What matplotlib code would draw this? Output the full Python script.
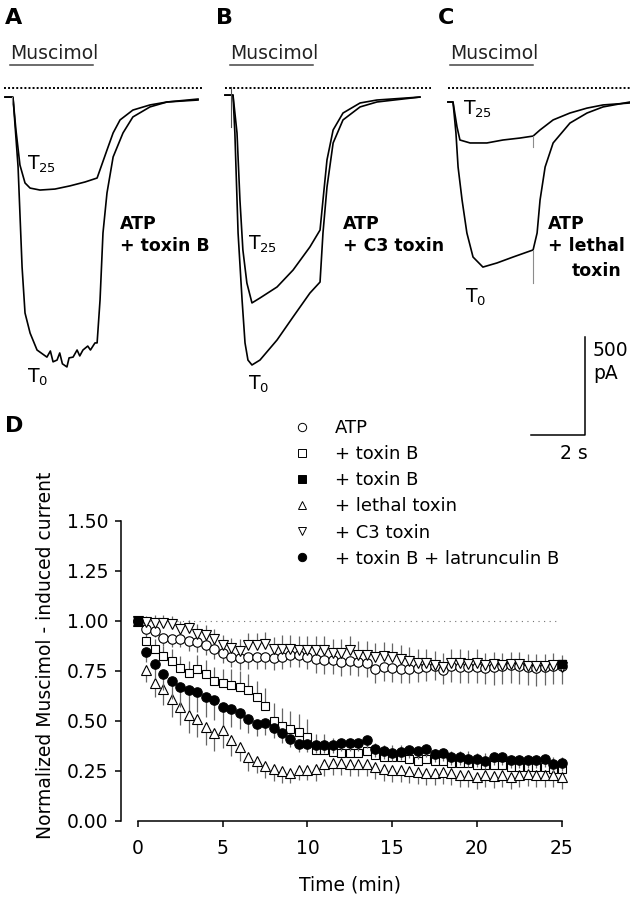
import matplotlib
matplotlib.use("Agg")
import matplotlib.pyplot as plt
from matplotlib.lines import Line2D

plt.rcParams['font.family'] = ['DejaVu Sans']
plt.rcParams['mathtext.fontset'] = 'dejavusans'

W, H = 630, 899

# ---- current traces (time in s from muscimol onset, current in pA) ----
a_t25_time = [-0.30, -0.04, 0.00, 0.11, 0.26, 0.45, 0.64, 1.01, 1.57, 2.13, 2.70, 3.15,
              3.52, 3.75, 4.01, 4.49, 5.13, 5.77, 6.93]
a_t25_curr = [-46, -46, -51, -213, -391, -482, -508, -518, -513, -497, -477, -457,
              -315, -228, -162, -112, -86, -71, -56]
a_t0_time = [-0.30, -0.04, 0.00, 0.19, 0.34, 0.45, 0.64, 0.90, 1.27, 1.40, 1.50, 1.65,
             1.75, 1.85, 2.02, 2.10, 2.25, 2.40, 2.50, 2.62, 2.80, 2.90, 3.07, 3.15,
             3.26, 3.37, 3.52, 3.75, 4.12, 4.49, 5.13, 5.77, 6.93]
a_t0_curr = [-46, -46, -46, -401, -909, -1142, -1244, -1330, -1366, -1335, -1390, -1381,
             -1345, -1400, -1416, -1370, -1366, -1330, -1360, -1330, -1310, -1330, -1294, -1294,
             -1076, -736, -533, -350, -228, -147, -96, -71, -61]

b_t25_time = [-0.30, -0.04, 0.00, 0.15, 0.26, 0.37, 0.52, 0.71, 1.01, 1.65, 2.25, 2.88,
              3.26, 3.37, 3.52, 3.75, 4.12, 4.76, 5.39, 7.00]
b_t25_curr = [-36, -36, -36, -228, -569, -822, -990, -1091, -1066, -1010, -924, -807,
              -721, -569, -365, -213, -127, -76, -61, -46]
b_t0_time = [-0.30, -0.04, 0.00, 0.07, 0.19, 0.34, 0.45, 0.56, 0.71, 1.01, 1.65, 2.25,
             2.88, 3.26, 3.37, 3.52, 3.75, 4.12, 4.76, 5.39, 7.00]
b_t0_curr = [-36, -36, -36, -228, -736, -1076, -1294, -1381, -1406, -1381, -1279, -1162,
             -1041, -985, -736, -503, -279, -162, -96, -71, -46]

c_t25_time = [-0.19, 0.00, 0.15, 0.26, 0.64, 1.27, 1.87, 2.51, 3.00, 3.26, 3.75, 4.38,
              5.02, 5.62, 6.63]
c_t25_curr = [-71, -71, -198, -264, -279, -279, -264, -254, -244, -213, -162, -127,
              -102, -86, -76]
c_t0_time = [-0.19, 0.00, 0.11, 0.19, 0.34, 0.52, 0.75, 1.12, 1.65, 2.25, 3.00, 3.15,
             3.26, 3.45, 3.75, 4.38, 5.02, 5.62, 6.63]
c_t0_curr = [-71, -71, -228, -401, -569, -736, -858, -909, -888, -858, -822, -736,
             -569, -401, -279, -178, -127, -96, -71]

muscimol_on, muscimol_off = -0.1, 3.0       # s
scale_time, scale_curr = 2, 500             # s, pA

# ---- normalized current time course ----
time_min = [0, 0.5, 1, 1.5, 2, 2.5, 3, 3.5, 4, 4.5, 5, 5.5, 6, 6.5, 7, 7.5, 8, 8.5, 9, 9.5,
            10, 10.5, 11, 11.5, 12, 12.5, 13, 13.5, 14, 14.5, 15, 15.5, 16, 16.5, 17, 17.5,
            18, 18.5, 19, 19.5, 20, 20.5, 21, 21.5, 22, 22.5, 23, 23.5, 24, 24.5, 25]

atp = [1.00, 0.96, 0.95, 0.915, 0.91, 0.91, 0.90, 0.895, 0.88, 0.86, 0.84, 0.82, 0.815,
       0.82, 0.82, 0.82, 0.815, 0.82, 0.83, 0.83, 0.82, 0.81, 0.805, 0.805, 0.795, 0.80,
       0.795, 0.79, 0.76, 0.77, 0.765, 0.76, 0.76, 0.765, 0.77, 0.775, 0.755, 0.775, 0.77,
       0.77, 0.77, 0.765, 0.77, 0.775, 0.78, 0.775, 0.77, 0.765, 0.77, 0.775, 0.775]
atp_err = [0, 0.03, 0.03, 0.04, 0.04, 0.04, 0.05, 0.05, 0.05, 0.05, 0.05, 0.05, 0.06,
           0.06, 0.06, 0.06, 0.06, 0.06, 0.06, 0.06, 0.06, 0.07, 0.07, 0.07, 0.07, 0.07,
           0.07, 0.07, 0.07, 0.07, 0.07, 0.07, 0.07, 0.07, 0.07, 0.07, 0.07, 0.08, 0.08,
           0.08, 0.08, 0.08, 0.09, 0.09, 0.09, 0.09, 0.09, 0.09, 0.09, 0.09, 0.09]

toxb = [1.00, 0.90, 0.86, 0.825, 0.80, 0.765, 0.74, 0.76, 0.735, 0.70, 0.69, 0.68, 0.67,
        0.655, 0.62, 0.575, 0.50, 0.475, 0.46, 0.445, 0.42, 0.355, 0.355, 0.345, 0.34, 0.34,
        0.34, 0.35, 0.33, 0.32, 0.32, 0.32, 0.31, 0.30, 0.31, 0.30, 0.30, 0.29, 0.29,
        0.29, 0.28, 0.28, 0.28, 0.28, 0.27, 0.27, 0.27, 0.27, 0.27, 0.26, 0.26]
toxb_err = [0, 0.04, 0.05, 0.05, 0.06, 0.06, 0.06, 0.07, 0.07, 0.07, 0.07, 0.08, 0.08,
            0.08, 0.08, 0.09, 0.09, 0.09, 0.09, 0.09, 0.09, 0.08, 0.08, 0.07, 0.07, 0.07,
            0.07, 0.07, 0.06, 0.06, 0.06, 0.06, 0.06, 0.06, 0.06, 0.06, 0.06, 0.06, 0.06,
            0.06, 0.06, 0.06, 0.06, 0.06, 0.06, 0.06, 0.06, 0.06, 0.06, 0.06, 0.06]

toxb_ctrl_time = [0, 25]
toxb_ctrl = [1.00, 0.785]

lethal = [1.00, 0.755, 0.69, 0.66, 0.61, 0.57, 0.53, 0.51, 0.47, 0.44, 0.455, 0.405, 0.37,
          0.32, 0.30, 0.275, 0.26, 0.25, 0.24, 0.255, 0.255, 0.26, 0.285, 0.29, 0.29, 0.285,
          0.285, 0.285, 0.27, 0.26, 0.255, 0.255, 0.25, 0.245, 0.24, 0.24, 0.245, 0.24, 0.23,
          0.23, 0.22, 0.23, 0.225, 0.23, 0.22, 0.23, 0.235, 0.23, 0.23, 0.23, 0.22]
lethal_err = [0, 0.06, 0.07, 0.08, 0.09, 0.09, 0.09, 0.09, 0.09, 0.09, 0.09, 0.08, 0.07,
              0.07, 0.06, 0.06, 0.06, 0.06, 0.05, 0.05, 0.05, 0.06, 0.06, 0.06, 0.06, 0.06,
              0.06, 0.06, 0.06, 0.06, 0.06, 0.06, 0.06, 0.06, 0.06, 0.06, 0.06, 0.06, 0.06,
              0.06, 0.06, 0.06, 0.06, 0.06, 0.06, 0.06, 0.06, 0.06, 0.06, 0.06, 0.06]

c3 = [1.00, 0.995, 0.99, 0.99, 0.985, 0.96, 0.965, 0.935, 0.93, 0.91, 0.88, 0.865, 0.85,
      0.88, 0.88, 0.885, 0.86, 0.86, 0.86, 0.855, 0.855, 0.855, 0.855, 0.84, 0.84, 0.855,
      0.83, 0.83, 0.82, 0.825, 0.82, 0.81, 0.80, 0.79, 0.79, 0.78, 0.77, 0.79, 0.79,
      0.785, 0.79, 0.78, 0.785, 0.78, 0.785, 0.785, 0.775, 0.775, 0.775, 0.78, 0.77]
c3_err = [0, 0.03, 0.04, 0.04, 0.04, 0.04, 0.04, 0.05, 0.05, 0.05, 0.05, 0.05, 0.06, 0.06,
          0.06, 0.06, 0.06, 0.07, 0.07, 0.07, 0.07, 0.07, 0.07, 0.07, 0.07, 0.07, 0.07, 0.07,
          0.07, 0.07, 0.07, 0.07, 0.07, 0.07, 0.07, 0.07, 0.07, 0.07, 0.07, 0.07, 0.07, 0.06,
          0.06, 0.06, 0.06, 0.06, 0.06, 0.06, 0.06, 0.06, 0.06]

latb = [1.00, 0.845, 0.785, 0.735, 0.70, 0.668, 0.655, 0.645, 0.62, 0.605, 0.572, 0.56, 0.54,
        0.51, 0.485, 0.49, 0.465, 0.44, 0.41, 0.385, 0.385, 0.38, 0.38, 0.38, 0.39, 0.39,
        0.39, 0.405, 0.36, 0.35, 0.34, 0.345, 0.355, 0.35, 0.36, 0.335, 0.34, 0.32, 0.32,
        0.31, 0.31, 0.30, 0.32, 0.32, 0.305, 0.305, 0.305, 0.305, 0.31, 0.285, 0.288]
latb_err = [0, 0.05, 0.07, 0.08, 0.09, 0.10, 0.10, 0.10, 0.10, 0.10, 0.09, 0.09, 0.08, 0.07,
            0.06, 0.06, 0.05, 0.05, 0.04, 0.04, 0.04, 0.04, 0.04, 0.04, 0.04, 0.04, 0.04,
            0.04, 0.04, 0.04, 0.04, 0.04, 0.04, 0.04, 0.04, 0.04, 0.04, 0.04, 0.04, 0.04,
            0.04, 0.04, 0.04, 0.04, 0.04, 0.04, 0.04, 0.04, 0.04, 0.04, 0.04]

legend_labels = ["ATP", "+ toxin B", "+ toxin B", "+ lethal toxin", "+ C3 toxin",
                 "+ toxin B + latrunculin B"]


fig = plt.figure(figsize=(6.3, 8.99), dpi=100)


def px_box(left, top, width, height):
    return [left / W, 1 - (top + height) / H, width / W, height / H]


def ftext(x, y, s, **kw):
    fig.text(x / W, 1 - y / H, s, **kw)


# ---------------- panels A-C: raw traces ----------------
PX_PER_S = 26.7
PX_PER_PA = 0.197
ZERO_Y = 88
TOP, BOTTOM = 40, 470
onsets = [13, 233, 453]
dotted_spans = [(-0.34, 7.1), (-0.30, 7.4), (-0.19, 7.2)]
panels = [
    (a_t25_time, a_t25_curr, a_t0_time, a_t0_curr),
    (b_t25_time, b_t25_curr, b_t0_time, b_t0_curr),
    (c_t25_time, c_t25_curr, c_t0_time, c_t0_curr),
]
trace_axes = []
for p0, span, (t25x, t25y, t0x, t0y) in zip(onsets, dotted_spans, panels):
    ax = fig.add_axes(px_box(p0 - 16, TOP, 215, BOTTOM - TOP))
    ax.set_xlim(-16 / PX_PER_S, 199 / PX_PER_S)
    ax.set_ylim(-(BOTTOM - ZERO_Y) / PX_PER_PA, (ZERO_Y - TOP) / PX_PER_PA)
    ax.axis('off')
    ax.plot(span, [0, 0], color='black', lw=1.4, ls=(0, (1, 1.1)))
    ax.plot([muscimol_on, muscimol_off], [117, 117], color='#444444', lw=1.1)
    ax.text(muscimol_on, 146, "Muscimol", fontsize=13.5, ha='left', va='baseline',
            color='#222222')
    ax.plot(t0x, t0y, color='black', lw=1.2)
    ax.plot(t25x, t25y, color='black', lw=1.2)
    trace_axes.append(ax)

# stimulus artefacts
trace_axes[0].plot([-0.04, -0.04], [-46, -76], color='0.5', lw=0.8)
trace_axes[1].plot([-0.075, -0.075], [5, -198], color='0.3', lw=0.8)
trace_axes[2].plot([3.0, 3.0], [-244, -299], color='0.55', lw=0.8)
trace_axes[2].plot([3.0, 3.0], [-822, -990], color='0.55', lw=0.8)

# scale bar
axc = trace_axes[2]
sb_x, sb_y = 2.94, -1762
axc.plot([sb_x, sb_x + scale_time, sb_x + scale_time],
         [sb_y, sb_y, sb_y + scale_curr], color='black', lw=1.1)
ftext(593, 379, "%d\npA" % scale_curr, fontsize=13.5, ha='left', va='baseline',
      linespacing=1.3)
ftext(574, 459, "%d s" % scale_time, fontsize=13.5, ha='center', va='baseline')

# trace labels
for x, y in [(27, 170), (248, 250), (463, 115)]:
    ftext(x, y, r"T$_{25}$", fontsize=13.5, va='baseline')
for x, y in [(27, 383), (248, 390), (465, 303)]:
    ftext(x, y, r"T$_{0}$", fontsize=13.5, va='baseline')

ftext(120, 251, "ATP\n+ toxin B", fontsize=12.5, fontweight='bold', va='baseline',
      linespacing=1.3)
ftext(343, 251, "ATP\n+ C3 toxin", fontsize=12.5, fontweight='bold', va='baseline',
      linespacing=1.3)
ftext(548, 251, "ATP\n+ lethal", fontsize=12.5, fontweight='bold', va='baseline',
      linespacing=1.3)
ftext(621, 276, "toxin", fontsize=12.5, fontweight='bold', va='baseline', ha='right')

for s, x, y in [("A", 14, 24), ("B", 224, 24), ("C", 446, 24), ("D", 14, 432)]:
    ftext(x, y, s, fontsize=16, fontweight='bold', ha='center', va='baseline')

# ---------------- panel D: time course ----------------
axd = fig.add_axes(px_box(121, 521, 457.6, 300))
axd.set_xlim(-1, 26)
axd.set_ylim(0, 1.5)
axd.plot([0, 24.7], [1, 1], color='0.45', lw=0.8, ls=(0, (1, 4)), zorder=1)

ms = 6.8
eb = dict(ecolor='0.4', elinewidth=0.9, capsize=0, ls='none', mec='black', mew=0.8)
zeros = [0] * len(time_min)
axd.errorbar(time_min, atp, yerr=[atp_err, zeros], marker='o', ms=ms, mfc='white', **eb,
             zorder=3)
axd.errorbar(time_min, toxb, yerr=[zeros, toxb_err], marker='s', ms=ms - 0.6, mfc='white',
             **eb, zorder=3)
axd.errorbar(time_min, lethal, yerr=[lethal_err, zeros], marker='^', ms=ms + 0.4,
             mfc='white', **eb, zorder=3)
axd.errorbar(time_min, c3, yerr=[zeros, c3_err], marker='v', ms=ms + 0.4, mfc='white', **eb,
             zorder=4)
axd.errorbar(time_min, latb, yerr=[latb_err, zeros], marker='o', ms=ms, mfc='black', **eb,
             zorder=5)
axd.plot(toxb_ctrl_time, toxb_ctrl, marker='s', ms=ms - 0.4, mfc='black', mec='black',
         ls='none', zorder=6)

for side in ['top', 'right']:
    axd.spines[side].set_visible(False)
axd.spines['left'].set_bounds(0, 1.5)
axd.spines['bottom'].set_bounds(0, 25)
for side in ['left', 'bottom']:
    axd.spines[side].set_linewidth(1.1)
axd.set_xticks([0, 5, 10, 15, 20, 25])
axd.set_yticks([0, 0.25, 0.5, 0.75, 1.0, 1.25, 1.5])
axd.set_yticklabels(["%.2f" % v for v in [0, 0.25, 0.5, 0.75, 1.0, 1.25, 1.5]])
axd.tick_params(axis='both', direction='out', length=4, width=1.1, labelsize=13.5)
axd.tick_params(axis='y', pad=5)
axd.tick_params(axis='x', pad=9)
axd.set_xlabel("Time (min)", fontsize=13.5, va='center')
axd.xaxis.set_label_coords(0.5, -0.213)
axd.set_ylabel("Normalized Muscimol - induced current", fontsize=13.5, va='center')
axd.yaxis.set_label_coords(-0.166, 0.553)

handles = [
    Line2D([], [], marker='o', ls='none', mfc='white', mec='black', mew=0.7, ms=6),
    Line2D([], [], marker='s', ls='none', mfc='white', mec='black', mew=0.7, ms=5.5),
    Line2D([], [], marker='s', ls='none', mfc='black', mec='black', mew=0.7, ms=5.5),
    Line2D([], [], marker='^', ls='none', mfc='white', mec='black', mew=0.7, ms=6),
    Line2D([], [], marker='v', ls='none', mfc='white', mec='black', mew=0.7, ms=6),
    Line2D([], [], marker='o', ls='none', mfc='black', mec='black', mew=0.7, ms=6),
]
fig.legend(handles, legend_labels, loc='upper left', bbox_to_anchor=(293 / W, 1 - 419 / H),
           frameon=False, fontsize=13, borderpad=0, handlelength=1.0, handletextpad=1.33,
           labelspacing=0.45, borderaxespad=0)

fig.savefig("out.png", dpi=100)
